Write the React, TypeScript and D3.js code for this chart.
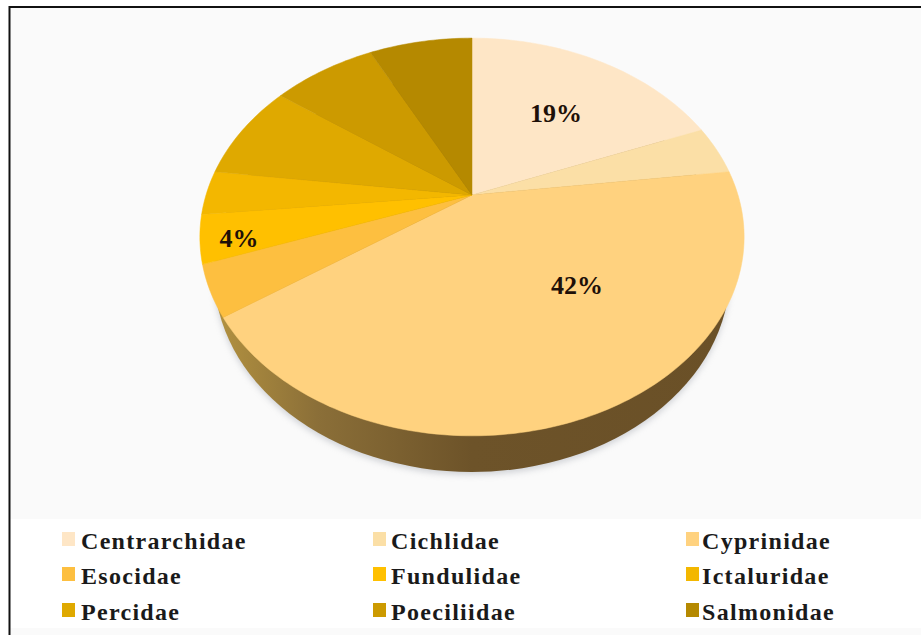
import React from "react";
import * as d3 from "d3";

// Fish family composition, share of records in percent
const families = ["Centrarchidae", "Cichlidae", "Cyprinidae", "Esocidae", "Fundulidae", "Ictaluridae", "Percidae", "Poeciliidae", "Salmonidae"];
const shares = [19, 4, 42.4, 4.1, 3.9, 3.6, 8, 7.5, 7.5];
const colors = ["#FEE6C6", "#FBDFA6", "#FFD27F", "#FDBF40", "#FFC000", "#F3B700", "#DFA900", "#CC9A00", "#B58900"];

// Only these slices carry a percentage label
const labelledFamilies = ["Centrarchidae", "Cyprinidae", "Fundulidae"];
const labelCenters = [[556, 122], [577, 294], [239, 247]];

const W = 921;
const H = 635;

// Perspective projection of the unit disc on to the screen
const APEX_X = 472;
const APEX_Y = 195;
const SPREAD_X = 266;
const SPREAD_Y = 190;
const TILT = 0.211;

function project(a: number): [number, number] {
  const u = Math.sin(a);
  const v = -Math.cos(a);
  const d = 1 - TILT * v;
  return [APEX_X + (SPREAD_X * u) / d, APEX_Y + (SPREAD_Y * v) / d];
}

const arcs = d3.pie<number>().sort(null).value((d) => d)(shares);

function slicePath(start: number, end: number) {
  const n = Math.max(2, Math.ceil((end - start) / 0.02));
  const pts: [number, number][] = [[APEX_X, APEX_Y]];
  for (let i = 0; i <= n; i++) pts.push(project(start + ((end - start) * i) / n));
  return d3.line()(pts) + "Z";
}

const swatchX = [62, 373, 686];
const textX = [81, 391, 702];
const rowY = [549, 584, 620];

export default function App() {
  return (
    <svg width={W} height={H} viewBox={`0 0 ${W} ${H}`} style={{ position: "absolute", left: 0, top: 0, display: "block" }}>
      <defs>
        <linearGradient id="wall" x1="0" x2="1" y1="0" y2="0">
          <stop offset="0" stopColor="#B39240" />
          <stop offset="0.2" stopColor="#8B6F38" />
          <stop offset="0.5" stopColor="#6D5329" />
          <stop offset="1" stopColor="#6A5027" />
        </linearGradient>
        <filter id="soft" x="-10%" y="-10%" width="120%" height="120%">
          <feGaussianBlur stdDeviation="3" />
        </filter>
      </defs>
      <rect x={0} y={0} width={W} height={H} fill="#FFFFFF" />
      <rect x={9} y={7} width={912} height={628} fill="#FAFAFA" />
      <rect x={10} y={519} width={911} height={109} fill="#FFFFFF" />
      <path d="M9.5 635V7H921" fill="none" stroke="#111111" strokeWidth={2} />

      {/* Side wall: a smaller, lower ellipse hidden behind the top face except at the front */}
      <ellipse cx={APEX_X} cy={276} rx={258} ry={199} fill="#A8ACB4" opacity={0.5} filter="url(#soft)" />
      <ellipse cx={APEX_X} cy={273} rx={258} ry={199} fill="url(#wall)" />

      {arcs.map((a, i) => (
        <path key={families[i]} d={slicePath(a.startAngle, a.endAngle)} fill={colors[i]} stroke={colors[i]} strokeWidth={0.5} />
      ))}

      <g fontFamily="'Liberation Serif', serif" fontWeight={700} fill="#1E1008" fontSize={26} textAnchor="middle">
        {labelledFamilies.map((f, i) => (
          <text key={f} x={labelCenters[i][0]} y={labelCenters[i][1]}>
            {Math.round(shares[families.indexOf(f)])}%
          </text>
        ))}
      </g>

      <g fontFamily="'Liberation Serif', serif" fontWeight={700} fontSize={24} fill="#1A1A1A" letterSpacing={1.3}>
        {families.map((f, i) => {
          const col = i % 3;
          const row = Math.floor(i / 3);
          return (
            <g key={f}>
              <rect x={swatchX[col]} y={rowY[row] - 17} width={13} height={14} fill={colors[i]} />
              <text x={textX[col]} y={rowY[row]}>{f}</text>
            </g>
          );
        })}
      </g>
    </svg>
  );
}
